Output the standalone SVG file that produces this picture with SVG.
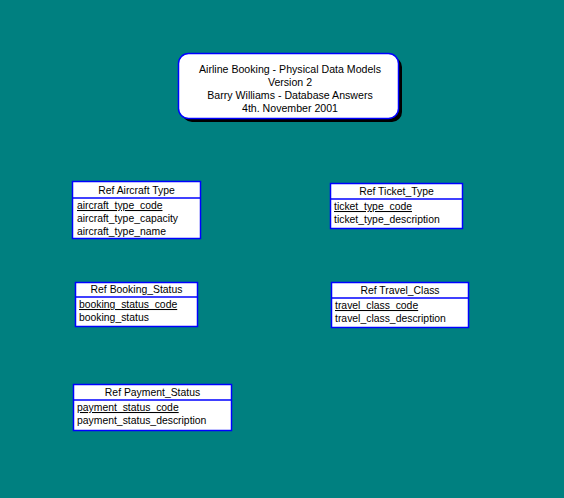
<svg xmlns="http://www.w3.org/2000/svg" width="564" height="498" viewBox="0 0 564 498">
<style>
text{font-family:"Liberation Sans",Arial,sans-serif;font-size:10.4px;fill:#000}
.t{font-size:10.6px}
.box{fill:#fff;stroke:#0000ff;stroke-width:1.5}
.sep{stroke:#0000ff;stroke-width:1.5}
.h{text-anchor:middle}
.u{text-decoration:underline}
</style>
<rect width="564" height="498" fill="#008080"/>
<g id="title">
<rect x="182" y="57" width="220" height="65" rx="10" fill="#000"/>
<rect x="178.5" y="53.5" width="220" height="65" rx="10" fill="#fff" stroke="#0000ff" stroke-width="1.5"/>
<text class="h t" x="290" y="73">Airline Booking - Physical Data Models</text>
<text class="h t" x="290" y="86">Version 2</text>
<text class="h t" x="290" y="99">Barry Williams - Database Answers</text>
<text class="h t" x="290" y="112">4th. November 2001</text>
</g>
<g id="ref_aircraft_type">
<rect class="box" x="72.5" y="181.5" width="128" height="57"/>
<line class="sep" x1="72.5" y1="198" x2="200.5" y2="198"/>
<text class="h" x="136.5" y="194">Ref Aircraft Type</text>
<text class="u" x="77" y="209">aircraft_type_code</text>
<text x="77" y="222">aircraft_type_capacity</text>
<text x="77" y="235">aircraft_type_name</text>
</g>
<g id="ref_ticket_type">
<rect class="box" x="330.5" y="183.5" width="132" height="45"/>
<line class="sep" x1="330.5" y1="199" x2="462.5" y2="199"/>
<text class="h" x="396.5" y="195">Ref Ticket_Type</text>
<text class="u" x="334" y="210">ticket_type_code</text>
<text x="334" y="223">ticket_type_description</text>
</g>
<g id="ref_booking_status">
<rect class="box" x="75.5" y="282.5" width="122" height="44"/>
<line class="sep" x1="75.5" y1="297" x2="197.5" y2="297"/>
<text class="h" x="136.5" y="293">Ref Booking_Status</text>
<text class="u" x="79" y="308">booking_status_code</text>
<text x="79" y="321">booking_status</text>
</g>
<g id="ref_travel_class">
<rect class="box" x="331.5" y="282.5" width="137" height="45"/>
<line class="sep" x1="331.5" y1="298" x2="468.5" y2="298"/>
<text class="h" x="400" y="294">Ref Travel_Class</text>
<text class="u" x="335" y="309">travel_class_code</text>
<text x="335" y="322">travel_class_description</text>
</g>
<g id="ref_payment_status">
<rect class="box" x="73.5" y="384.5" width="158" height="46"/>
<line class="sep" x1="73.5" y1="400" x2="231.5" y2="400"/>
<text class="h" x="152.5" y="396">Ref Payment_Status</text>
<text class="u" x="77" y="411">payment_status_code</text>
<text x="77" y="424">payment_status_description</text>
</g>
<g id="connectors"/>
</svg>
